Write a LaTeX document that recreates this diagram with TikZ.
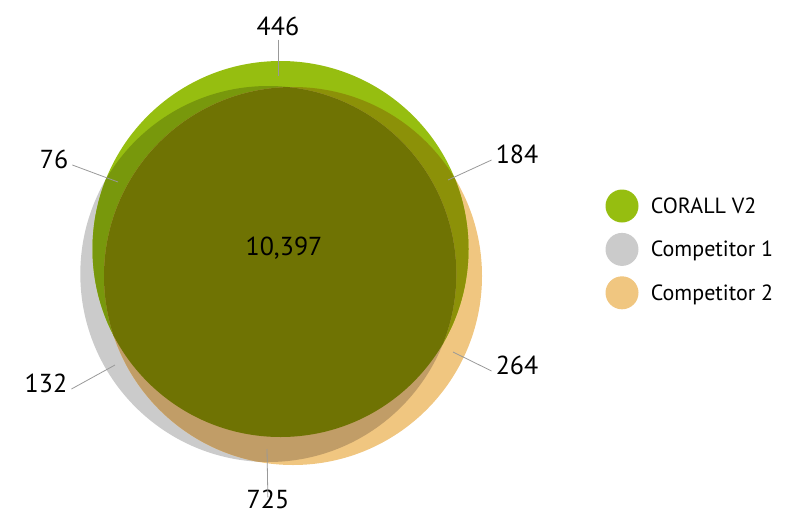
\documentclass[tikz,border=0pt]{standalone}
\usepackage{fontspec}
\setmainfont{PT Sans}
\usepackage{xcolor}
\usepackage{tikz}
\usetikzlibrary{positioning}
\definecolor{corall}{HTML}{96BE10}
\definecolor{comp1}{HTML}{CBCBCB}
\definecolor{comp2}{HTML}{F0C680}
\definecolor{corallcomp1}{HTML}{78980C}
\definecolor{corallcomp2}{HTML}{8C9108}
\definecolor{comps}{HTML}{C19D67}
\definecolor{allthree}{HTML}{6F7303}
\definecolor{leadgrey}{HTML}{999999}
\tikzset{
  every node/.style={font=\fontsize{26}{30}\selectfont, text=black},
  numlabel/.style={inner sep=4pt, text height=0.7em, text depth=0pt},
  leader/.style={draw=leadgrey, line width=0.8pt},
  legdot/.style={circle, minimum size=33pt, inner sep=0pt},
  legtext/.style={font=\fontsize{22}{26}\selectfont, inner sep=0pt,
    text height=0.7em, text depth=0pt, anchor=west, yshift=-4pt},
}
\begin{document}
\begin{tikzpicture}[x=1pt, y=-1pt]
  \useasboundingbox (0,0) rectangle (800,530);
  % set centres
  \coordinate (c0) at (280.5,249);
  \coordinate (c1) at (268.3,274);
  \coordinate (c2) at (293,276);
  % single sets
  \fill[comp1] (c1) circle (188pt);
  \fill[comp2] (c2) circle (189pt);
  \fill[corall] (c0) circle (188pt);
  % overlaps
  \begin{scope}
    \clip (c0) circle (188pt);
    \fill[corallcomp1] (c1) circle (188pt);
    \fill[corallcomp2] (c2) circle (189pt);
  \end{scope}
  \begin{scope}
    \clip (c1) circle (188pt);
    \fill[comps] (c2) circle (189pt);
  \end{scope}
  \begin{scope}
    \clip (c0) circle (188pt);
    \clip (c1) circle (188pt);
    \fill[allthree] (c2) circle (189pt);
  \end{scope}
  % counts
  \node[numlabel] (mid) at (284,252) {10,397};
  \node[numlabel] (n446) at (278,32) {446};
  \node[numlabel] (n76) at (54,165) {76};
  \node[numlabel] (n184) at (517,160) {184};
  \node[numlabel] (n264) at (517,371) {264};
  \node[numlabel] (n132) at (46,389) {132};
  \node[numlabel] (n725) at (268,505) {725};
  \coordinate (p446) at (278,76);
  \coordinate (p76) at (118,182);
  \coordinate (p184) at (448,180);
  \coordinate (p264) at (453,352);
  \coordinate (p132) at (115,365);
  \coordinate (p725) at (267,449);
  \draw[leader] (n446) -- (p446);
  \draw[leader] (n76.east) -- (p76);
  \draw[leader] (n184.west) -- (p184);
  \draw[leader] (n264.west) -- (p264);
  \draw[leader] (n132.east) -- (p132);
  \draw[leader] (n725) -- (p725);
  % legend
  \node[legdot, fill=corall] (dot0) at (622,206) {};
  \node[legdot, fill=comp1, below=10pt of dot0] (dot1) {};
  \node[legdot, fill=comp2, below=10pt of dot1] (dot2) {};
  \node[legtext, right=12pt of dot0] (leg0) {CORALL V2};
  \node[legtext, right=12pt of dot1] (leg1) {Competitor 1};
  \node[legtext, right=12pt of dot2] (leg2) {Competitor 2};
\end{tikzpicture}
\end{document}
